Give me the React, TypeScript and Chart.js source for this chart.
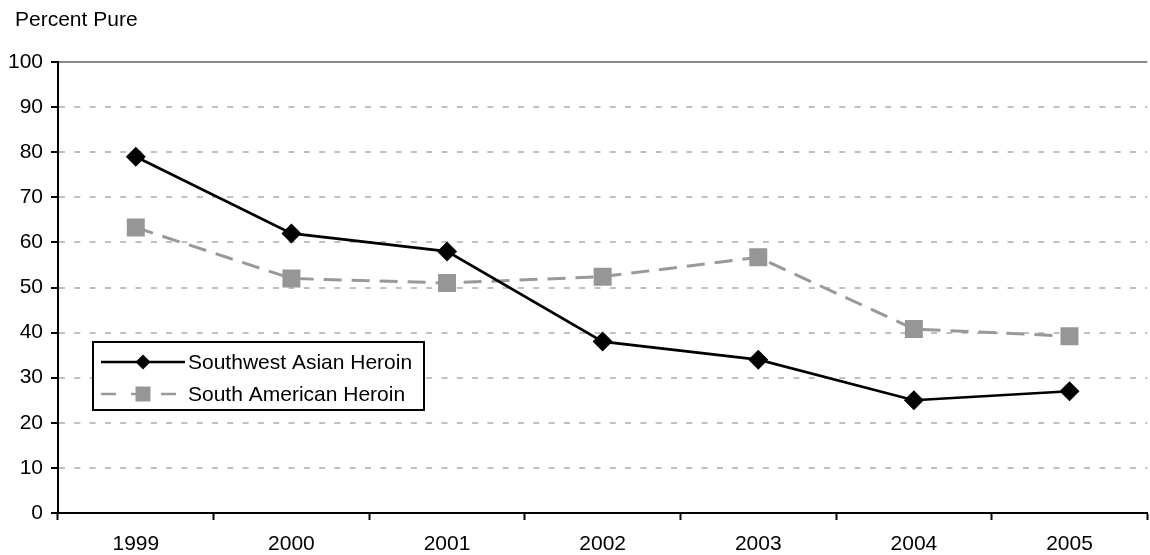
import React, { useEffect, useRef } from "react";
import { Chart, registerables } from "chart.js";

Chart.register(...registerables);

// ---- data ----
const years: string[] = ["1999", "2000", "2001", "2002", "2003", "2004", "2005"];
const swAsianHeroin: number[] = [79, 62, 58, 38, 34, 25, 27];
const southAmericanHeroin: number[] = [63.3, 52, 51, 52.4, 56.7, 40.8, 39.2];
const seriesNames: string[] = ["Southwest Asian Heroin", "South American Heroin"];
const yAxisTitle = "Percent Pure";
const yMin = 0;
const yMax = 100;
const yStep = 10;

const FONT = "'Liberation Sans', Arial, Helvetica, sans-serif";
const FONT_SIZE = 21;

const axisTitle = {
  id: "axisTitle",
  afterDraw(chart: any) {
    const { ctx } = chart;
    const yScale = chart.scales.y;
    ctx.save();
    ctx.fillStyle = "#000000";
    ctx.font = `${FONT_SIZE}px ${FONT}`;
    ctx.textAlign = "left";
    ctx.textBaseline = "middle";
    ctx.fillText(yAxisTitle, yScale.left + 15, yScale.top - 42);
    ctx.restore();
  },
};

const boxLegend = {
  id: "boxLegend",
  afterDatasetsDraw(chart: any) {
    const { ctx, chartArea } = chart;
    const x0 = chartArea.left + 35;
    const y0 = chartArea.top + 280;
    const w = 331;
    const h = 68;
    ctx.save();
    ctx.fillStyle = "#ffffff";
    ctx.fillRect(x0, y0, w, h);
    ctx.lineWidth = 2;
    ctx.strokeStyle = "#000000";
    ctx.strokeRect(x0, y0, w, h);
    chart.data.datasets.forEach((ds: any, i: number) => {
      const cy = y0 + 20 + i * 32;
      ctx.save();
      ctx.strokeStyle = ds.borderColor;
      ctx.lineWidth = 2.5;
      ctx.setLineDash(ds.borderDash ? [15, 15] : []);
      ctx.beginPath();
      ctx.moveTo(x0 + 8, cy);
      ctx.lineTo(x0 + 92, cy);
      ctx.stroke();
      ctx.restore();
      const mx = x0 + 50;
      ctx.fillStyle = ds.pointBackgroundColor;
      ctx.beginPath();
      if (ds.pointStyle === "rectRot") {
        const r = 7.5;
        ctx.moveTo(mx, cy - r);
        ctx.lineTo(mx + r, cy);
        ctx.lineTo(mx, cy + r);
        ctx.lineTo(mx - r, cy);
        ctx.closePath();
      } else {
        const s = 7.5;
        ctx.rect(mx - s, cy - s, 2 * s, 2 * s);
      }
      ctx.fill();
      ctx.fillStyle = "#000000";
      ctx.font = `${FONT_SIZE}px ${FONT}`;
      ctx.textAlign = "left";
      ctx.textBaseline = "middle";
      ctx.fillText(ds.label, x0 + 95, cy + 1);
    });
    ctx.restore();
  },
};

export default function App() {
  const ref = useRef<HTMLCanvasElement | null>(null);

  useEffect(() => {
    if (!ref.current) return;
    const chart = new Chart(ref.current, {
      type: "line",
      data: {
        labels: years,
        datasets: [
          {
            label: seriesNames[0],
            data: swAsianHeroin,
            borderColor: "#000000",
            borderWidth: 2.7,
            pointStyle: "rectRot",
            pointRadius: 10,
            pointBackgroundColor: "#000000",
            pointBorderColor: "#000000",
            pointBorderWidth: 0,
            tension: 0,
          } as any,
          {
            label: seriesNames[1],
            data: southAmericanHeroin,
            borderColor: "#999999",
            borderWidth: 3,
            borderDash: [18, 10],
            pointStyle: "rect",
            pointRadius: 12.7,
            pointBackgroundColor: "#969696",
            pointBorderColor: "#969696",
            pointBorderWidth: 0,
            tension: 0,
          } as any,
        ],
      },
      options: {
        animation: false,
        responsive: false,
        devicePixelRatio: 1,
        layout: { padding: { left: 0, right: 0, top: 62, bottom: 0 } },
        plugins: {
          legend: { display: false },
          tooltip: { enabled: false },
          title: { display: false },
        },
        scales: {
          x: {
            type: "category",
            offset: true,
            grid: {
              offset: true,
              drawOnChartArea: false,
              drawTicks: true,
              tickLength: 7,
              tickColor: "#000000",
              tickWidth: 2,
              color: "#000000",
            },
            border: { display: true, color: "#000000", width: 2 },
            ticks: {
              color: "#000000",
              font: { family: FONT, size: FONT_SIZE },
              padding: 12,
              maxRotation: 0,
              autoSkip: false,
            },
            afterFit: (scale: any) => {
              scale.height = 42;
            },
          },
          y: {
            min: yMin,
            max: yMax,
            grid: {
              drawTicks: true,
              tickLength: 7,
              tickColor: "#000000",
              tickWidth: 2,
              lineWidth: 2,
              color: (c: any) => (c.tick && c.tick.value === yMax ? "#888888" : "#c0c0c0"),
            },
            border: {
              display: true,
              color: "#000000",
              width: 2,
              dash: (c: any) => (c.tick && c.tick.value === yMax ? [] : [6, 9.3]),
            },
            ticks: {
              stepSize: yStep,
              color: "#000000",
              font: { family: FONT, size: FONT_SIZE },
              padding: 8,
            },
            afterFit: (scale: any) => {
              scale.width = 58;
            },
          },
        },
      },
      plugins: [boxLegend, axisTitle],
    } as any);
    return () => chart.destroy();
  }, []);

  return (
    <div
      style={{
        position: "fixed",
        left: 0,
        top: 0,
        width: 1150,
        height: 555,
        overflow: "hidden",
        background: "#ffffff",
      }}
    >
      <canvas ref={ref} width={1160} height={555} style={{ display: "block", width: 1160, height: 555 }} />
    </div>
  );
}
